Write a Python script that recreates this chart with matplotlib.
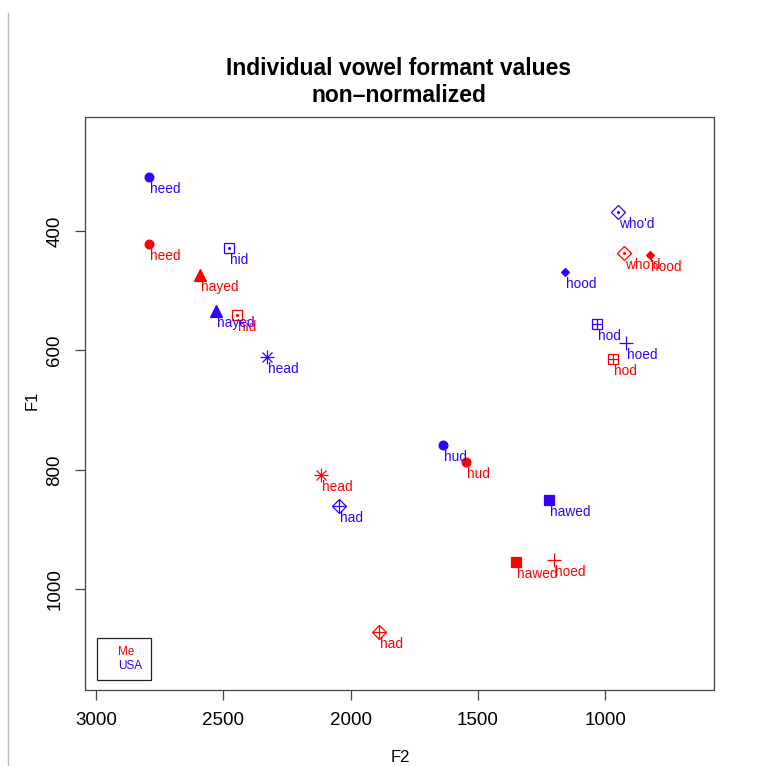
import matplotlib.pyplot as plt
from matplotlib.lines import Line2D
from matplotlib.patches import Rectangle

plt.rcParams['font.family'] = ['Liberation Sans', 'DejaVu Sans']

# vowel formant values
vowels = ['heed', 'hid', 'hayed', 'head', 'had', 'hud', 'hod', 'hawed', 'hoed', 'hood', "who'd"]
me_f2 = [2790, 2448, 2591, 2116, 1890, 1545, 971, 1350, 1202, 824, 926]
me_f1 = [422, 540, 474, 809, 1072, 787, 615, 955, 951, 440, 437]
usa_f2 = [2790, 2478, 2528, 2329, 2047, 1638, 1034, 1219, 917, 1160, 949]
usa_f1 = [309, 428, 534, 611, 860, 759, 555, 850, 588, 469, 369]

speakers = ['Me', 'USA']
colors = {'Me': '#ff0000', 'USA': '#3300ff'}

# R-like pch symbols built from layered matplotlib markers: (marker, size, filled)
symbols = {
    'heed': [('o', 6.3, True)],
    'hid': [('s', 7.0, False), ('o', 1.3, True)],
    'hayed': [('^', 8.0, True)],
    'head': [('+', 9.5, False), ('x', 6.5, False)],
    'had': [('D', 7.4, False), ('+', 10.5, False)],
    'hud': [('o', 6.3, True)],
    'hod': [('s', 7.6, False), ('+', 7.6, False)],
    'hawed': [('s', 7.0, True)],
    'hoed': [('+', 9.8, False)],
    'hood': [('D', 3.8, True)],
    "who'd": [('D', 7.0, False), ('o', 1.3, True)],
}

fig = plt.figure(figsize=(7.84, 7.66), dpi=100)
ax = fig.add_axes([85 / 784, 1 - 690 / 766, (714 - 85) / 784, (690 - 117) / 766])

for spk, f2s, f1s in [('Me', me_f2, me_f1), ('USA', usa_f2, usa_f1)]:
    c = colors[spk]
    for v, x, y in zip(vowels, f2s, f1s):
        for m, ms, filled in symbols[v]:
            ax.plot([x], [y], linestyle='none', marker=m, markersize=ms,
                    markeredgecolor=c, markerfacecolor=c if filled else 'none',
                    markeredgewidth=0.9, zorder=3)
        ax.annotate(v, (x, y), xytext=(1, -16), textcoords='offset pixels',
                    ha='left', va='baseline', color=c, fontsize=9.8, zorder=4)

ax.set_xlim(3043, 573)
ax.set_ylim(1169, 209)
ax.set_xticks([3000, 2500, 2000, 1500, 1000])
ax.set_yticks([400, 600, 800, 1000])
ax.tick_params(length=7.2, width=0.9, color='#444444', pad=8.5, labelsize=13.5)
for lab in ax.get_yticklabels():
    lab.set_rotation(90)
    lab.set_va('center')
for s in ax.spines.values():
    s.set_color('#444444')
    s.set_linewidth(0.9)

# legend box in the lower left corner
ax.add_patch(Rectangle((0.0191, 0.0175), 0.0854, 0.0733, transform=ax.transAxes,
                       fill=False, edgecolor='#222222', linewidth=0.9, zorder=5))
ax.text(0.053, 0.0658, 'Me', transform=ax.transAxes, color=colors['Me'],
        fontsize=8.5, va='center', ha='left')
ax.text(0.053, 0.0414, 'USA', transform=ax.transAxes, color=colors['USA'],
        fontsize=8.5, va='center', ha='left')

fig.text(399 / 784, 1 - 82 / 766, 'Individual vowel formant values\nnon\u2013normalized',
         ha='center', va='center', fontsize=16.5, fontweight='bold', linespacing=1.27)
fig.text(400 / 784, 1 - 757 / 766, 'F2', ha='center', va='center', fontsize=12)
fig.text(32 / 784, 1 - 400 / 766, 'F1', ha='center', va='center', fontsize=12, rotation=90)

# thin frame line on the left of the screenshot
fig.add_artist(Line2D([8 / 784, 8 / 784], [0, 1 - 13 / 766], color='#bbbbbb', linewidth=1))

fig.savefig('out.png', dpi=100)
